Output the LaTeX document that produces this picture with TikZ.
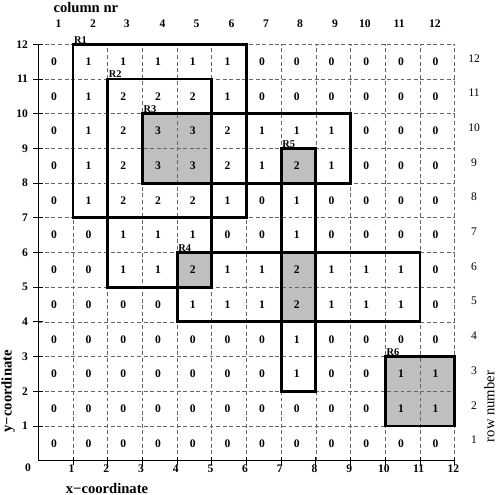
\documentclass[tikz,border=0pt]{standalone}
\usepackage{fontspec}
\setmainfont{Liberation Serif}
\begin{document}
\begin{tikzpicture}[
  gridline/.style={black!60, line width=0.5pt, dash pattern=on 3.2pt off 2.2pt},
  axisline/.style={black, line width=0.8pt},
  region/.style={black, line width=2.4pt, line join=miter},
  hot/.style={fill=black!25},
  num/.style={font=\bfseries\fontsize{9.5}{10}\selectfont, inner sep=0pt},
  rownum/.style={font=\fontsize{9.5}{10}\selectfont, inner sep=0pt},
  rlabel/.style={font=\bfseries\fontsize{8.5}{9}\selectfont, inner sep=0.8pt, anchor=south west},
  title/.style={font=\bfseries\fontsize{12}{13}\selectfont, inner sep=0pt},
  titleplain/.style={font=\fontsize{12}{13}\selectfont, inner sep=0pt}
]
\useasboundingbox (-1.104,-0.988) rectangle (13.248,13.277);
% shaded cells
\fill[hot] (3,8) rectangle (5,10);
\fill[hot] (4,5) rectangle (5,6);
\fill[hot] (7,8) rectangle (8,9);
\fill[hot] (7,4) rectangle (8,6);
\fill[hot] (10,1) rectangle (12,3);
% dashed grid
\foreach \i in {1,...,12} {
  \draw[gridline] (\i,0) -- (\i,12);
  \draw[gridline] (0,\i) -- (12,\i);
}
% axes and ticks
\draw[axisline] (0,12) -- (0,0) -- (12,0);
\foreach \i in {1,...,12} {
  \draw[axisline] (-0.14,\i) -- (0.14,\i);
  \draw[axisline] (\i,-0.12) -- (\i,0.12);
  \node[num, anchor=east] (yl\i) at (-0.29,\i) {\i};
  \pgfmathsetmacro{\xx}{\i-0.04}
  \node[num] (xl\i) at (\xx,-0.24) {\i};
  \pgfmathsetmacro{\yy}{\i-0.4}
  \node[rownum] (rn\i) at (12.56,\yy) {\i};
}
\node[num] (orig) at (-0.3,-0.2) {0};
% column numbers
\foreach \c/\x in {1/0.58,2/1.58,3/2.55,4/3.58,5/4.56,6/5.57,7/6.56,8/7.54,9/8.55,10/9.41,11/10.40,12/11.43}
  \node[num] (cn\c) at (\x,12.6) {\c};
% cell values (top row first)
\foreach \rowvals [count=\r] in {
  {0,1,1,1,1,1,0,0,0,0,0,0},
  {0,1,2,2,2,1,0,0,0,0,0,0},
  {0,1,2,3,3,2,1,1,1,0,0,0},
  {0,1,2,3,3,2,1,2,1,0,0,0},
  {0,1,2,2,2,1,0,1,0,0,0,0},
  {0,0,1,1,1,0,0,1,0,0,0,0},
  {0,0,1,1,2,1,1,2,1,1,1,0},
  {0,0,0,0,1,1,1,2,1,1,1,0},
  {0,0,0,0,0,0,0,1,0,0,0,0},
  {0,0,0,0,0,0,0,1,0,0,1,1},
  {0,0,0,0,0,0,0,0,0,0,1,1},
  {0,0,0,0,0,0,0,0,0,0,0,0}} {
  \foreach \v [count=\c] in \rowvals {
    \pgfmathsetmacro{\cx}{\c-0.55}
    \pgfmathsetmacro{\cy}{12.5-\r}
    \node[num] (v\r-\c) at (\cx,\cy) {\v};
  }
}
% regions
\draw[region] (1,7) rectangle (6,12);
\draw[region] (2,5) rectangle (5,11);
\draw[region] (3,8) rectangle (9,10);
\draw[region] (4,4) rectangle (11,6);
\draw[region] (7,2) rectangle (8,9);
\draw[region] (10,1) rectangle (12,3);
\node[rlabel] (r1) at (1,12) {R1};
\node[rlabel] (r2) at (2,11) {R2};
\node[rlabel] (r3) at (3,10) {R3};
\node[rlabel] (r4) at (4,6) {R4};
\node[rlabel] (r5) at (7,9) {R5};
\node[rlabel] (r6) at (10,3) {R6};
% titles
\node[title] (coltitle) at (1.37,13.05) {column nr};
\node[title] (xtitle) at (1.98,-0.8) {x\char"2212coordinate};
\node[title, rotate=90] (ytitle) at (-0.87,2.0) {y\char"2212coordinate};
\node[titleplain, rotate=90] (rowtitle) at (13.0,1.56) {row number};
\end{tikzpicture}
\end{document}
